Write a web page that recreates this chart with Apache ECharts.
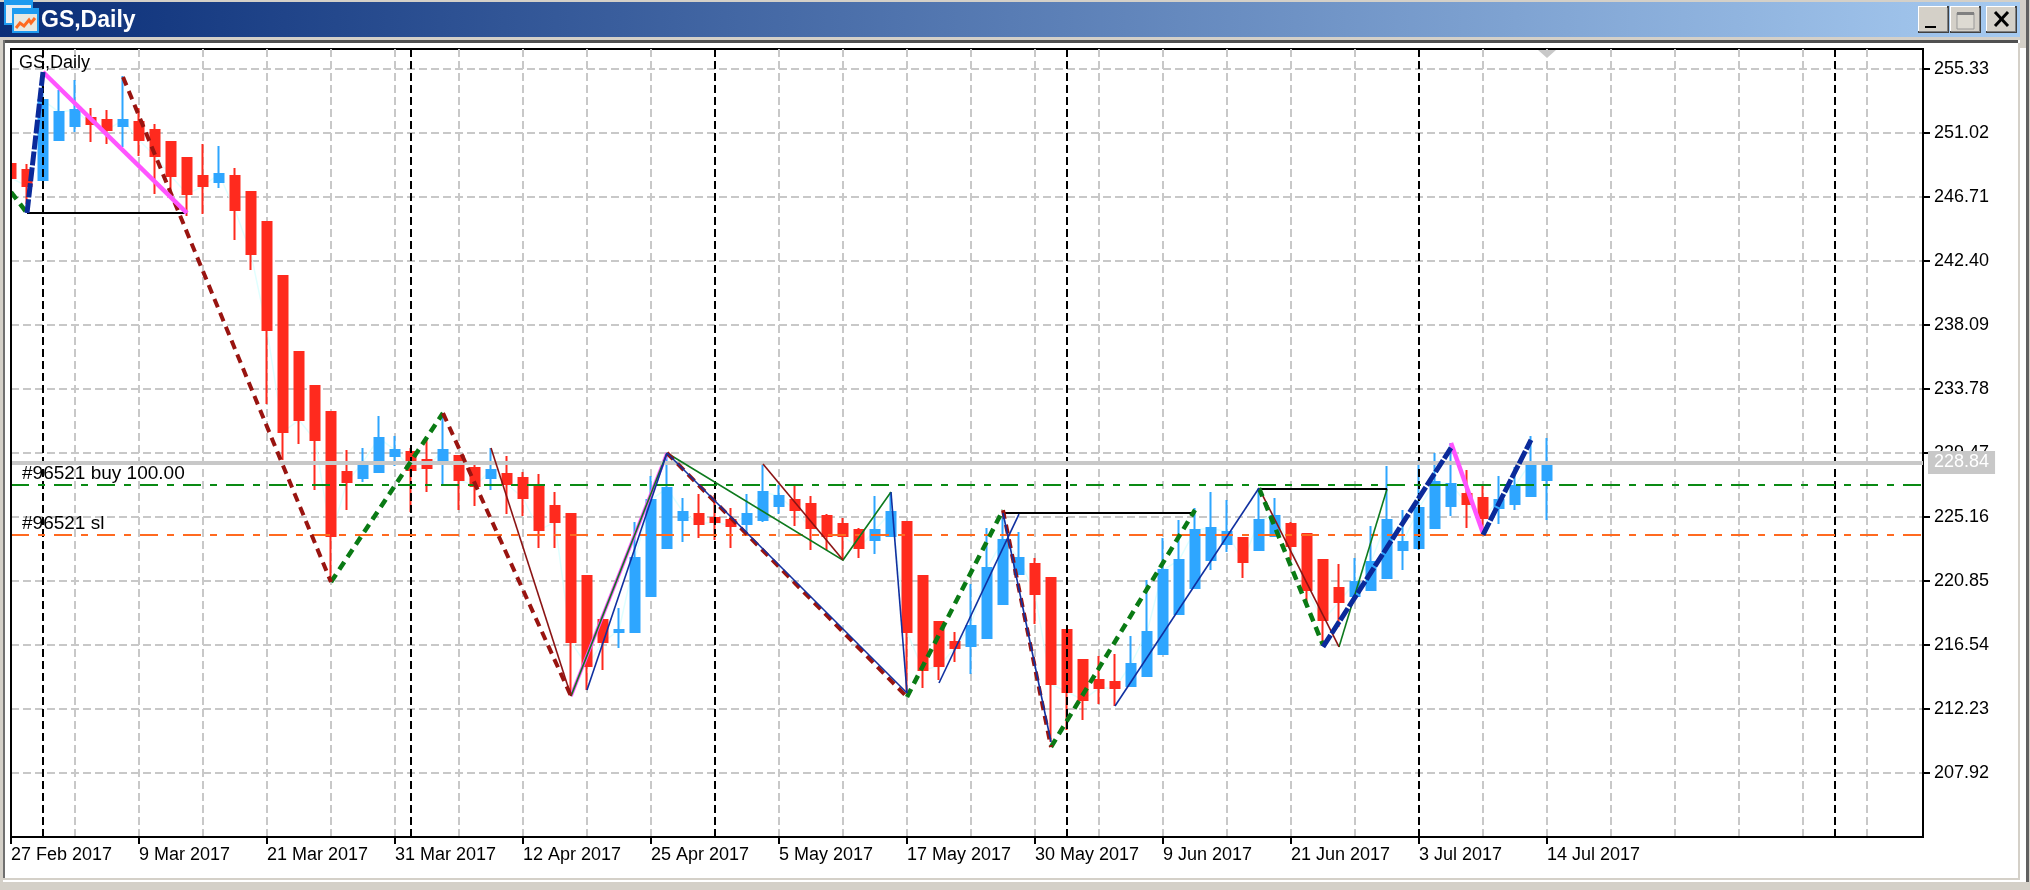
<!DOCTYPE html>
<html><head><meta charset="utf-8"><title>GS,Daily</title>
<style>html,body{margin:0;padding:0;background:#fff;overflow:hidden}#c{width:2030px;height:890px}</style>
<script src="https://cdn.jsdelivr.net/npm/echarts@6/dist/echarts.min.js"></script>
</head><body><div id="c"></div>
<script>
const symbolTitle = 'GS,Daily';
const priceTicks = [207.92,212.23,216.54,220.85,225.16,229.47,233.78,238.09,242.40,246.71,251.02,255.33];
const dateTickBars = [0,8,16,24,32,40,48,56,64,72,80,88,96];
const dateTickLabels = ['27 Feb 2017','9 Mar 2017','21 Mar 2017','31 Mar 2017','12 Apr 2017','25 Apr 2017','5 May 2017','17 May 2017','30 May 2017','9 Jun 2017','21 Jun 2017','3 Jul 2017','14 Jul 2017'];
const periodSeparators = [2,25,44,66,88,114];
// [open, close, low, high]
const candles = [
[248.93,247.99,247.99,248.93],[248.53,247.45,246.24,248.93],[247.86,253.24,247.86,255.13],[250.55,252.43,250.55,253.92],
[251.49,252.57,251.09,254.59],[252.03,251.63,250.41,252.70],[251.90,251.22,250.28,252.57],[251.49,251.90,250.08,254.86],
[251.76,250.55,249.47,252.70],[251.22,249.47,246.91,251.63],[250.41,248.13,246.71,250.41],[249.34,246.91,245.43,249.34],
[248.13,247.45,245.56,250.28],[247.72,248.26,247.32,250.14],[248.13,245.83,243.81,248.66],[247.05,242.87,241.79,247.05],
[245.03,237.75,232.77,245.03],[241.39,230.89,229.00,241.39],[236.27,231.69,230.07,236.27],[233.98,230.35,226.98,233.98],
[232.23,223.88,220.78,232.23],[228.19,227.52,225.63,229.67],[227.78,228.87,227.52,229.81],[228.19,230.48,228.19,231.96],
[229.27,229.67,228.59,230.62],[229.54,228.33,225.50,229.81],[229.00,228.46,226.84,230.48],[228.73,229.67,227.25,232.16],
[229.27,227.65,225.63,229.27],[228.46,227.25,225.90,228.73],[227.78,228.33,226.98,229.81],[228.06,227.38,225.36,229.27],
[227.78,226.44,225.23,228.19],[227.25,224.28,223.07,228.06],[225.90,224.82,223.07,226.84],[225.36,216.74,213.10,225.36],
[221.19,215.13,213.51,221.19],[218.22,216.74,214.86,218.22],[217.41,217.55,216.34,219.03],[217.41,222.40,217.41,224.82],
[219.84,226.31,219.84,227.92],[223.07,227.11,223.07,229.47],[224.96,225.50,223.48,226.44],[225.36,224.69,223.75,226.71],
[225.09,224.82,223.61,226.64],[224.96,224.55,223.07,225.77],[224.69,225.36,224.08,226.71],[224.96,226.84,224.82,228.73],
[225.90,226.57,225.36,227.32],[226.31,225.63,224.55,227.32],[226.03,224.42,222.94,226.57],[225.23,223.88,222.94,225.36],
[224.69,223.88,222.26,225.09],[224.28,223.07,222.40,224.42],[223.61,224.28,222.67,226.57],[223.88,225.50,223.88,226.84],
[224.82,217.41,213.31,224.82],[221.19,214.86,213.64,221.19],[218.09,215.13,214.18,218.09],[216.74,216.34,215.40,217.41],
[216.47,217.82,214.59,220.65],[217.01,221.73,217.01,224.42],[219.30,223.61,219.30,225.23],[221.32,222.40,221.32,224.15],
[222.00,219.97,217.95,222.40],[221.05,213.91,210.01,221.05],[217.55,213.38,210.82,217.55],[215.53,212.84,211.49,215.53],
[214.18,213.64,212.57,215.80],[214.05,213.64,212.43,215.93],[213.78,215.26,213.78,217.14],[214.45,217.41,214.45,220.92],
[215.93,221.59,215.93,223.75],[218.63,222.26,218.63,224.96],[220.38,224.28,220.38,225.77],[222.26,224.42,221.59,226.84],
[223.34,224.15,222.80,226.31],[223.75,222.13,221.05,223.75],[222.94,224.96,222.94,226.98],[223.88,225.23,223.88,226.44],
[224.69,223.21,222.26,224.82],[224.02,220.24,219.10,224.02],[222.26,218.22,216.67,222.26],[220.38,219.44,217.75,222.00],
[219.84,220.78,219.84,222.40],[220.24,222.13,220.24,224.55],[221.05,224.96,221.05,228.59],[222.94,223.48,221.59,225.63],
[223.07,225.77,222.94,229.00],[224.42,227.52,224.42,229.47],[225.90,227.38,225.23,230.14],[226.71,226.03,224.42,228.33],
[226.44,225.09,223.95,227.25],[225.77,226.31,224.69,227.92],[226.03,227.25,225.63,228.53],[226.57,228.87,226.57,230.62],
[227.65,228.80,224.96,230.48]
];
const currentPrice = 228.84;
const buyPrice = 227.32;
const stopPrice = 223.95;
const buyLabel = '#96521 buy 100.00';
const stopLabel = '#96521 sl';
// zigzag legs: [bar, price] pairs
const thickGreen = [[[0,247.05],[1,245.63]],[[20,220.78],[27,232.16]],[[56,213.04],[62,225.63]],[[65,209.67],[74,225.63]],[[78,227.11],[82,216.54]]];
const thickDarkRed = [[[7,254.79],[20,220.78]],[[27,232.16],[35,213.10]],[[41,229.47],[56,213.04]],[[62,225.63],[65,209.67]]];
const thickBlue = [[[1,245.63],[2,255.13]],[[82,216.41],[90,229.81]],[[92,223.95],[95,230.35]]];
const thickMagenta = [[[2,255.13],[11,245.63]],[[90,230.14],[92,224.08]]];
const thinMagenta = [[[35,213.10],[41,229.47]]];
const thinGreen = [[[35,213.10],[41,229.47]],[[41,229.47],[52,222.26],[55,226.84]],[[83,216.41],[86,227.04]]];
const thinDarkRed = [[[30,229.81],[35,213.10]],[[47,228.73],[52,222.26]],[[78,227.11],[83,216.41]]];
const thinBlue = [[[36,213.51],[41,229.47]],[[41,229.47],[56,213.31]],[[55,226.84],[56,213.31]],[[58,213.98],[63,225.36]],[[62,225.43],[65,210.01]],[[69,212.43],[78,227.11]]];
const blackLegs = [[[1,245.63],[11,245.63]],[[62,225.43],[74,225.43]],[[78,227.04],[86,227.04]]];
const shiftMarkerBar = 96;

const FONT = '"Liberation Sans", Arial, sans-serif';
const yMin = 203.61, yMax = 256.68;
const GRID = '#C8C8C8';

function legs(list, color, width, dash, z) {
  return list.map(d => ({
    type: 'line', data: d, symbol: 'none', silent: true, z: z, animation: false,
    lineStyle: {color: color, width: width, type: dash || 'solid', cap: 'butt', join: 'miter'}
  }));
}
function level(value, color, width, dash, label, labelOpt) {
  return {
    type: 'line', data: [], z: 1, silent: true,
    markLine: {
      silent: true, symbol: 'none', animation: false, precision: 4,
      lineStyle: {color: color, width: width, type: dash},
      label: Object.assign({show: !!label, formatter: label, color: '#000', fontFamily: FONT, fontSize: 19}, labelOpt || {}),
      data: [{yAxis: value}]
    }
  };
}
const series = [];
series.push({
  type: 'line', data: [], z: 1, silent: true,
  markLine: {silent: true, symbol: 'none', animation: false, label: {show: false},
    lineStyle: {color: '#000', width: 2, type: [8,4]},
    data: periodSeparators.map(v => ({xAxis: v}))}
});
series.push(level(currentPrice, GRID, 4, 'solid', String(currentPrice.toFixed(2)), {
  position: 'end', color: '#fff', backgroundColor: GRID, padding: [3,6,2,6], distance: 5, lineHeight: 18, fontSize: 18
}));
series.push(level(buyPrice, '#0A8A14', 2, [18,9,7,9], buyLabel, {position: 'insideStartTop', distance: [11, 2]}));
series.push(level(stopPrice, '#FF6A20', 2, [18,9,7,9], stopLabel, {position: 'insideStartTop', distance: [11, 2]}));
series.push({
  type: 'line', z: 2, symbol: 'none', silent: true,
  data: candles.map((c, i) => [i, c[1]]),
  lineStyle: {color: '#E0FFFF', width: 1.5}
});
series.push({
  type: 'candlestick', z: 3, silent: true, barWidth: 9,
  data: candles.map((c, i) => [i, c[0], c[1], c[2], c[3]]),
  encode: {x: 0, y: [1,2,3,4]},
  itemStyle: {color: '#2EA6FF', color0: '#FF2A1E', borderColor: '#2EA6FF', borderColor0: '#FF2A1E', borderWidth: 2},
  markPoint: {
    silent: true, animation: false, label: {show: false},
    data: [{coord: [shiftMarkerBar, yMax], symbol: 'triangle', symbolRotate: 180, symbolSize: [18, 8], symbolOffset: [0, 5], itemStyle: {color: GRID}}]
  }
});
series.push(...legs(thinMagenta, '#FF55FF', 3.5, null, 4));
series.push(...legs(thinGreen, '#0E7A1E', 1.6, null, 5));
series.push(...legs(thinDarkRed, '#8B1414', 1.6, null, 5));
series.push(...legs(blackLegs, '#000', 2, null, 5));
series.push(...legs(thickGreen, '#0A7A14', 4.5, [9,6], 5));
series.push(...legs(thickDarkRed, '#991410', 4, [9,6], 5));
series.push(...legs(thinBlue, '#1030A0', 1.6, null, 6));
series.push(...legs(thickMagenta, '#FF55FF', 4.5, null, 6));
series.push(...legs(thickBlue, '#0A2A9A', 5, [14,2], 7));

const chrome = [
  // outer frame
  {type:'rect', shape:{x:0,y:0,width:2030,height:2}, style:{fill:'#D4D0C8'}},
  {type:'rect', shape:{x:0,y:2,width:2020,height:35}, style:{fill:new echarts.graphic.LinearGradient(0,0,1,0,[{offset:0,color:'#0A2E78'},{offset:1,color:'#A6CAF0'}])}},
  {type:'rect', shape:{x:0,y:37,width:2030,height:3}, style:{fill:'#D4D0C8'}},
  {type:'rect', shape:{x:3,y:40,width:2015,height:3}, style:{fill:'#505050'}},
  {type:'rect', shape:{x:0,y:40,width:3,height:850}, style:{fill:'#D4D0C8'}},
  {type:'rect', shape:{x:3,y:40,width:2,height:838}, style:{fill:'#707070'}},
  {type:'rect', shape:{x:5,y:43,width:5,height:835}, style:{fill:'#FFFFFF'}},
  {type:'rect', shape:{x:10,y:48,width:2,height:790}, style:{fill:'#000000'}},
  {type:'rect', shape:{x:2018,y:43,width:2,height:837}, style:{fill:'#D4D0C8'}},
  {type:'rect', shape:{x:2020,y:0,width:6,height:48}, style:{fill:'#D4D0C8'}},
  {type:'rect', shape:{x:2026,y:0,width:3,height:882}, style:{fill:'#606060'}},
  {type:'rect', shape:{x:2029,y:0,width:1,height:890}, style:{fill:'#D4D0C8'}},
  {type:'rect', shape:{x:3,y:878,width:2017,height:2}, style:{fill:'#D4D0C8'}},
  {type:'rect', shape:{x:0,y:882,width:2030,height:8}, style:{fill:'#D4D0C8'}},
  // icon
  {type:'rect', shape:{x:5,y:0,width:27,height:24}, style:{fill:'#E8EEF4',stroke:'#1E9BF0',lineWidth:2}},
  {type:'rect', shape:{x:5,y:0,width:27,height:5}, style:{fill:'#1E9BF0'}},
  {type:'rect', shape:{x:13,y:9,width:25,height:23}, style:{fill:'#E8E8E0',stroke:'#1E9BF0',lineWidth:2}},
  {type:'rect', shape:{x:13,y:9,width:25,height:5}, style:{fill:'#1E9BF0'}},
  {type:'polyline', shape:{points:[[16,28],[20,23],[24,26],[29,20],[31,23],[35,18]]}, style:{fill:'none',stroke:'#FF6A20',lineWidth:3}},
  {type:'text', style:{x:41,y:9,text:symbolTitle,fill:'#fff',font:'bold 23px "Liberation Sans", Arial, sans-serif'}},
  // window buttons
  ...[1918,1950,1986].flatMap(x => [
    {type:'rect', shape:{x:x,y:6,width:31,height:27}, style:{fill:'#404040'}},
    {type:'rect', shape:{x:x,y:6,width:29,height:25}, style:{fill:'#FFFFFF'}},
    {type:'rect', shape:{x:x+1,y:7,width:28,height:24}, style:{fill:'#D4D0C8'}},
    {type:'rect', shape:{x:x+29,y:8,width:1,height:24}, style:{fill:'#808080'}},
    {type:'rect', shape:{x:x+1,y:31,width:29,height:1}, style:{fill:'#808080'}}
  ]),
  {type:'rect', shape:{x:1925,y:26,width:11,height:2}, style:{fill:'#000'}},
  {type:'rect', shape:{x:1957,y:13,width:17,height:16}, style:{fill:'#DDDAD2',stroke:'#999',lineWidth:1}},
  {type:'rect', shape:{x:1957,y:12,width:17,height:3}, style:{fill:'#808080'}},
  {type:'polyline', shape:{points:[[1995,12],[2008,26]]}, style:{stroke:'#000',lineWidth:3}},
  {type:'polyline', shape:{points:[[2008,12],[1995,26]]}, style:{stroke:'#000',lineWidth:3}}
].map(o => Object.assign({silent:true, z:50}, o));

const chart = echarts.init(document.getElementById('c'), null, {renderer:'canvas', width:2030, height:890});
chart.setOption({
  animation: false,
  backgroundColor: '#FFFFFF',
  textStyle: {fontFamily: FONT},
  title: {text: symbolTitle, left: 19, top: 54, padding: 0, textStyle: {fontSize: 18, fontWeight: 'normal', color: '#000', fontFamily: FONT}},
  grid: {left: 11, right: 107, top: 49, bottom: 53, show: true, backgroundColor: '#fff', borderColor: '#000', borderWidth: 2},
  xAxis: [{
    type: 'value', min: 0, max: 119.5, interval: 4, position: 'bottom',
    axisLine: {show: true, onZero: false, lineStyle: {color: '#000', width: 2}},
    axisTick: {show: true, length: 7, customValues: dateTickBars, lineStyle: {color: '#000', width: 2}},
    axisLabel: {show: true, customValues: dateTickBars, color: '#000', fontSize: 18, fontFamily: FONT, align: 'left', margin: 9,
      formatter: v => dateTickLabels[dateTickBars.indexOf(v)] || ''},
    splitLine: {show: false}
  }, {
    type: 'value', min: 0, max: 119.5, interval: 4, position: 'top',
    axisLine: {show: false}, axisTick: {show: false}, axisLabel: {show: false},
    splitLine: {show: true, lineStyle: {color: GRID, width: 2, type: [8,4]}}
  }],
  yAxis: {
    type: 'value', min: yMin, max: yMax, position: 'right', scale: true,
    axisLine: {show: true, onZero: false, lineStyle: {color: '#000', width: 2}},
    axisTick: {show: true, length: 7, customValues: priceTicks, lineStyle: {color: '#000', width: 2}},
    axisLabel: {show: true, customValues: priceTicks, color: '#000', fontSize: 18, fontFamily: FONT, margin: 11, formatter: v => v.toFixed(2)},
    splitLine: {show: true, customValues: priceTicks, lineStyle: {color: GRID, width: 2, type: [8,4]}}
  },
  graphic: {elements: chrome},
  series: series
});
</script></body></html>
